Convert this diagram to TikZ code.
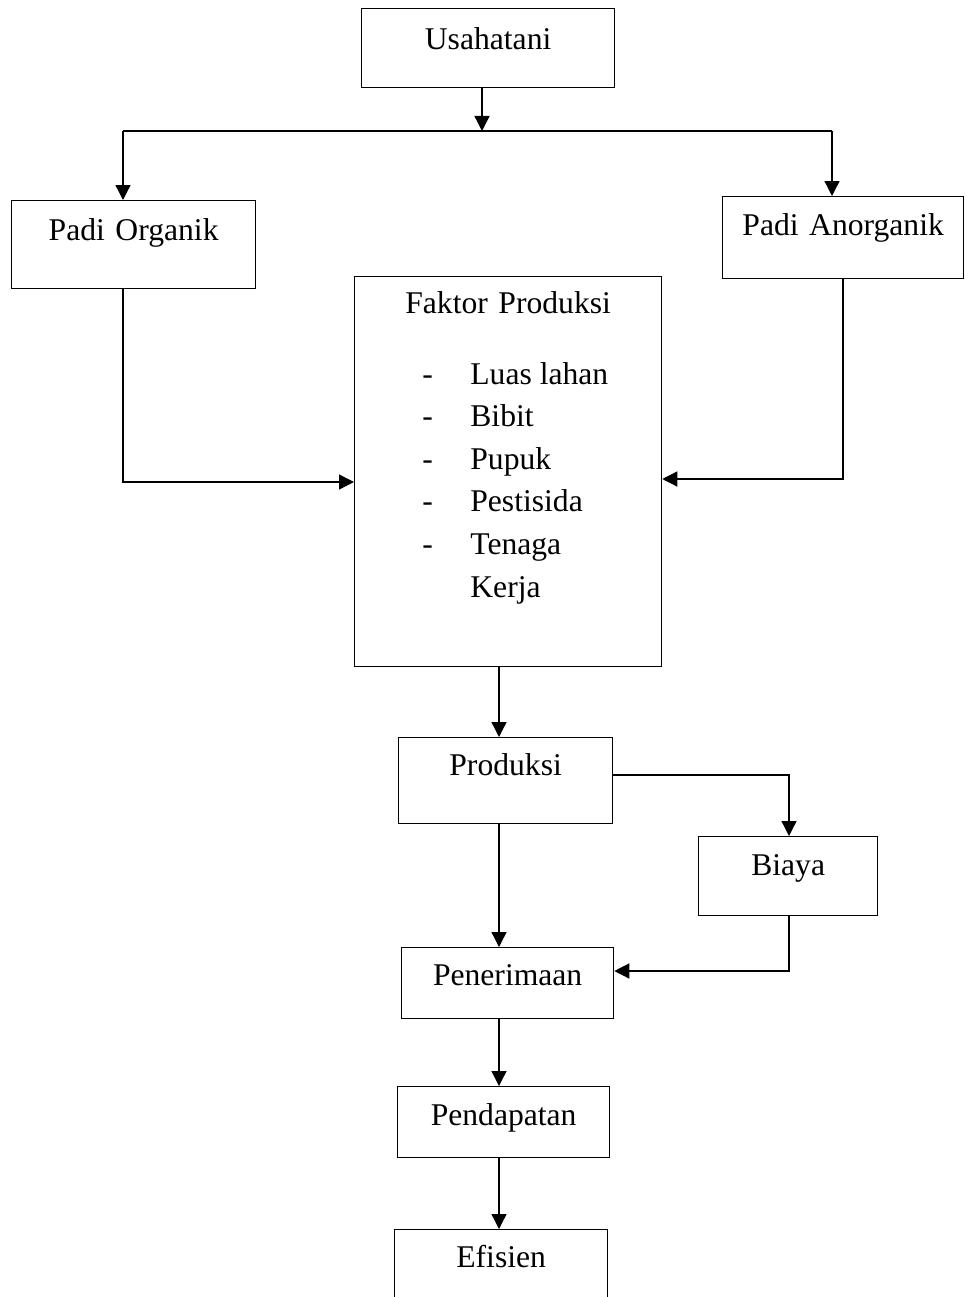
\documentclass[tikz,border=0pt]{standalone}
\usepackage{fontspec}
\setmainfont{Liberation Serif}
\usepackage{tikz}
\usetikzlibrary{arrows.meta,positioning}
\tikzset{>={Triangle[length=0.3cm,width=0.3cm]}}

\begin{document}
\begin{tikzpicture}[x=0.02cm, y=-0.02cm,
                    flowbox/.style={draw, line width=0.75pt, inner sep=0pt, anchor=north west, align=center,
                                    font=\fontsize{18}{24.25}\selectfont},
                    conn/.style={line width=0.75pt, black},
                    arrow/.style={line width=0.75pt, black, ->},
                   ]

\useasboundingbox (0,0) rectangle (964,1297);

% boxes (top left corner, size, place of the text)
\node[flowbox, text width=5.06cm, text height=0.82cm, text depth=0.76cm] (usaha) at (361,8) {Usahatani};
\node[flowbox, text width=4.88cm, text height=0.80cm, text depth=0.96cm] (organik) at (11,200) {Padi Organik};
\node[flowbox, text width=4.82cm, text height=0.78cm, text depth=0.86cm] (anorganik) at (722,196) {Padi Anorganik};
\node[flowbox, text width=6.14cm, text height=0.74cm, text depth=7.06cm] (faktor) at (354,276) {Faktor Produksi};
\node[anchor=base west, inner sep=0pt, font=\fontsize{18}{24.25}\selectfont] (faktorlist) at (422,384)
  {\begin{tabular}[t]{@{}l@{\hspace{0.75cm}}l@{}}
   - & Luas lahan\\
   - & Bibit\\
   - & Pupuk\\
   - & Pestisida\\
   - & Tenaga\\
     & Kerja
   \end{tabular}};
\node[flowbox, text width=4.28cm, text height=0.76cm, text depth=0.96cm] (produksi) at (398,737) {Produksi};
\node[flowbox, text width=3.58cm, text height=0.78cm, text depth=0.80cm] (biaya) at (698,836) {Biaya};
\node[flowbox, text width=4.24cm, text height=0.76cm, text depth=0.66cm] (penerimaan) at (401,947) {Penerimaan};
\node[flowbox, text width=4.24cm, text height=0.78cm, text depth=0.64cm] (pendapatan) at (397,1086) {Pendapatan};
\node[flowbox, text width=4.26cm, text height=0.76cm, text depth=1.00cm] (efisien) at (394,1229) {Efisien};

% bends of the connectors
\coordinate (split) at (482,131);
\coordinate (lleft) at (123,131);
\coordinate (lright) at (832,131);
\coordinate (obend) at (123,482);
\coordinate (abend) at (843,479);
\coordinate (axis) at (499,0);
\coordinate (bbend) at (789,775);
\coordinate (cbend) at (789,971);

\draw[arrow] (usaha.south -| split) -- (split);
\draw[conn] (lleft) -- (lright);
\draw[arrow] (lleft) -- (lleft |- organik.north);
\draw[arrow] (lright) -- (lright |- anorganik.north);

\draw[arrow] (organik.south -| obend) -- (obend) -- (obend -| faktor.west);
\draw[arrow] (anorganik.south -| abend) -- (abend) -- (abend -| faktor.east);

\draw[arrow] (faktor.south -| axis) -- (axis |- produksi.north);
\draw[arrow] (bbend -| produksi.east) -- (bbend) -- (bbend |- biaya.north);
\draw[arrow] (produksi.south -| axis) -- (axis |- penerimaan.north);
\draw[arrow] (biaya.south -| cbend) -- (cbend) -- (cbend -| penerimaan.east);
\draw[arrow] (penerimaan.south -| axis) -- (axis |- pendapatan.north);
\draw[arrow] (pendapatan.south -| axis) -- (axis |- efisien.north);

\end{tikzpicture}
\end{document}
